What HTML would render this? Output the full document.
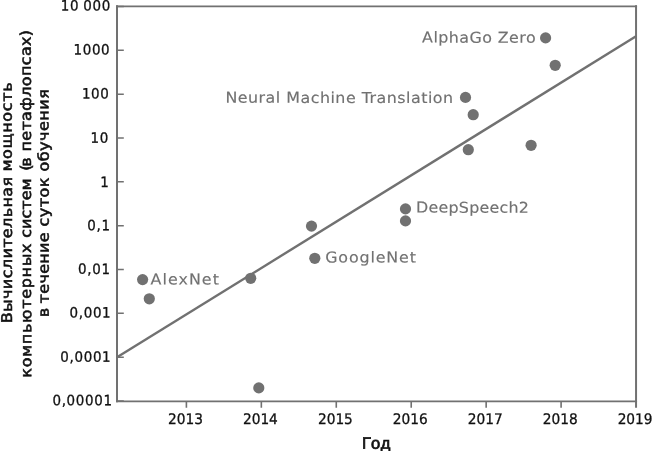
<!DOCTYPE html>
<html lang="ru"><head><meta charset="utf-8"><title>Вычислительная мощность</title>
<style>html,body{margin:0;padding:0;background:#fff}body{width:653px;height:451px;overflow:hidden}svg{display:block}text{font-family:"DejaVu Sans","Liberation Sans",sans-serif}.tk{font-size:14.6px;fill:#111111;stroke:#111111;stroke-width:.3px;letter-spacing:-.35px}.lb{font-size:15px;fill:#717171;stroke:#717171;stroke-width:.15px}.ti{font-size:14.8px;fill:#111111;stroke:#111111;stroke-width:.55px;word-spacing:-2px}.tx{font-family:"Liberation Sans",sans-serif;font-size:16.5px;fill:#111111;stroke:#111111;stroke-width:.7px}</style></head><body>
<svg width="653" height="451" viewBox="0 0 653 451">
<rect width="653" height="451" fill="#fff"/>
<g stroke="#717171" fill="none" stroke-linecap="butt">
<path stroke-width="2" d="M117.00 402.30 V5.25 M636.05 5.25 V407.80"/>
<path stroke-width="1.75" d="M116.00 6.25 H637.05 M116.00 401.30 H637.05"/>
<path stroke-width="1.5" d="M117.00 6.46 h6.8M117.00 50.30 h6.8M117.00 94.14 h6.8M117.00 137.98 h6.8M117.00 181.82 h6.8M117.00 225.66 h6.8M117.00 269.50 h6.8M117.00 313.34 h6.8M117.00 357.18 h6.8M117.00 401.02 h6.8"/>
<path stroke-width="1.6" d="M186.40 401.30 V407.8M261.34 401.30 V407.8M336.28 401.30 V407.8M411.22 401.30 V407.8M486.16 401.30 V407.8M561.10 401.30 V407.8"/>
</g>
<path d="M117.00 357.3 L636.05 36.3" stroke="#717171" stroke-width="2.4" fill="none"/>
<g fill="#717171">
<circle cx="142.6" cy="279.6" r="5.6"/>
<circle cx="149.3" cy="298.8" r="5.6"/>
<circle cx="250.7" cy="278.3" r="5.6"/>
<circle cx="258.8" cy="387.9" r="5.6"/>
<circle cx="311.5" cy="226.1" r="5.6"/>
<circle cx="314.8" cy="258.3" r="5.6"/>
<circle cx="405.5" cy="208.9" r="5.6"/>
<circle cx="405.5" cy="220.9" r="5.6"/>
<circle cx="465.5" cy="97.4" r="5.6"/>
<circle cx="473.2" cy="114.7" r="5.6"/>
<circle cx="468.3" cy="149.7" r="5.6"/>
<circle cx="531.1" cy="145.3" r="5.6"/>
<circle cx="545.6" cy="37.9" r="5.6"/>
<circle cx="555.2" cy="65.3" r="5.6"/>
</g>
<text class="lb" transform="translate(150.6 284.5) rotate(.06) scale(1.060 1)" textLength="64.4" lengthAdjust="spacing">AlexNet</text>
<text class="lb" transform="translate(325.2 262.4) rotate(.06) scale(1.060 1)" textLength="85.6" lengthAdjust="spacing">GoogleNet</text>
<text class="lb" transform="translate(416.1 212.6) rotate(.06) scale(1.060 1)" textLength="106.4" lengthAdjust="spacing">DeepSpeech2</text>
<text class="lb" transform="translate(225.4 102.8) rotate(.06) scale(1.060 1)" textLength="214.8" lengthAdjust="spacing">Neural Machine Translation</text>
<text class="lb" transform="translate(422.1 42.6) rotate(.06) scale(1.060 1)" textLength="107.1" lengthAdjust="spacing">AlphaGo Zero</text>
<text class="tk" transform="translate(110.9 10.6) rotate(.06) scale(.94 1)" text-anchor="end" style="font-size:14.3px;letter-spacing:.7px;word-spacing:-.8px">10 000</text>
<text class="tk" transform="translate(110.3 54.6) rotate(.06) scale(.94 1)" text-anchor="end" style="font-size:14.3px;letter-spacing:.7px;word-spacing:-.8px">1000</text>
<text class="tk" transform="translate(109.5 98.6) rotate(.06) scale(.94 1)" text-anchor="end" style="font-size:14.3px;letter-spacing:.7px;word-spacing:-.8px">100</text>
<text class="tk" transform="translate(108.9 142.8) rotate(.06) scale(.94 1)" text-anchor="end" style="font-size:14.3px;letter-spacing:.7px;word-spacing:-.8px">10</text>
<text class="tk" transform="translate(109.4 186.9) rotate(.06) scale(.94 1)" text-anchor="end" style="font-size:14.3px;letter-spacing:.7px;word-spacing:-.8px">1</text>
<text class="tk" transform="translate(110.6 230.3) rotate(.06) scale(.94 1)" text-anchor="end" style="font-size:14.3px;letter-spacing:.7px;word-spacing:-.8px">0,1</text>
<text class="tk" transform="translate(110.6 273.9) rotate(.06) scale(.94 1)" text-anchor="end" style="font-size:14.3px;letter-spacing:.7px;word-spacing:-.8px">0,01</text>
<text class="tk" transform="translate(111.3 317.6) rotate(.06) scale(.94 1)" text-anchor="end" style="font-size:14.3px;letter-spacing:.7px;word-spacing:-.8px">0,001</text>
<text class="tk" transform="translate(111.3 361.8) rotate(.06) scale(.94 1)" text-anchor="end" style="font-size:14.3px;letter-spacing:.7px;word-spacing:-.8px">0,0001</text>
<text class="tk" transform="translate(112.6 405.3) rotate(.06) scale(.94 1)" text-anchor="end" style="font-size:14.3px;letter-spacing:.7px;word-spacing:-.8px">0,00001</text>
<text class="tk" transform="translate(185.5 423.9) rotate(.06) scale(.94 1)" text-anchor="middle" style="letter-spacing:0">2013</text>
<text class="tk" transform="translate(260.4 423.9) rotate(.06) scale(.94 1)" text-anchor="middle" style="letter-spacing:0">2014</text>
<text class="tk" transform="translate(335.4 423.9) rotate(.06) scale(.94 1)" text-anchor="middle" style="letter-spacing:0">2015</text>
<text class="tk" transform="translate(410.3 423.9) rotate(.06) scale(.94 1)" text-anchor="middle" style="letter-spacing:0">2016</text>
<text class="tk" transform="translate(485.3 423.9) rotate(.06) scale(.94 1)" text-anchor="middle" style="letter-spacing:0">2017</text>
<text class="tk" transform="translate(560.2 423.9) rotate(.06) scale(.94 1)" text-anchor="middle" style="letter-spacing:0">2018</text>
<text class="tk" transform="translate(635.1 423.9) rotate(.06) scale(.94 1)" text-anchor="middle" style="letter-spacing:0">2019</text>
<text class="tx" transform="translate(362.1 448.7) rotate(.06)" textLength="28.2" lengthAdjust="spacing">Год</text>
<g transform="translate(11.9 203) rotate(-90.06) scale(1.08 1)">
<text class="ti" x="-111.39" y="0" textLength="135.56" lengthAdjust="spacing">Вычислительная</text>
<text class="ti" x="29.07" y="0" textLength="82.59" lengthAdjust="spacing">мощность</text>
</g>
<g transform="translate(31.0 203) rotate(-90.06) scale(1.08 1)">
<text class="ti" x="-161.76" y="0" textLength="124.26" lengthAdjust="spacing">компьютерных</text>
<text class="ti" x="-32.22" y="0" textLength="55.05" lengthAdjust="spacing">систем</text>
<text class="ti" x="29.81" y="0" textLength="12.41" lengthAdjust="spacing">(в</text>
<text class="ti" x="47.59" y="0" textLength="112.69" lengthAdjust="spacing">петафлопсах)</text>
</g>
<g transform="translate(48.7 203) rotate(-90.06) scale(1.08 1)">
<text class="ti" x="-105.88" y="0">в</text>
<text class="ti" x="-92.96" y="0" textLength="65.74" lengthAdjust="spacing">течение</text>
<text class="ti" x="-21.85" y="0" textLength="45.42" lengthAdjust="spacing">суток</text>
<text class="ti" x="29.07" y="0" textLength="76.39" lengthAdjust="spacing">обучения</text>
</g>
</svg></body></html>
